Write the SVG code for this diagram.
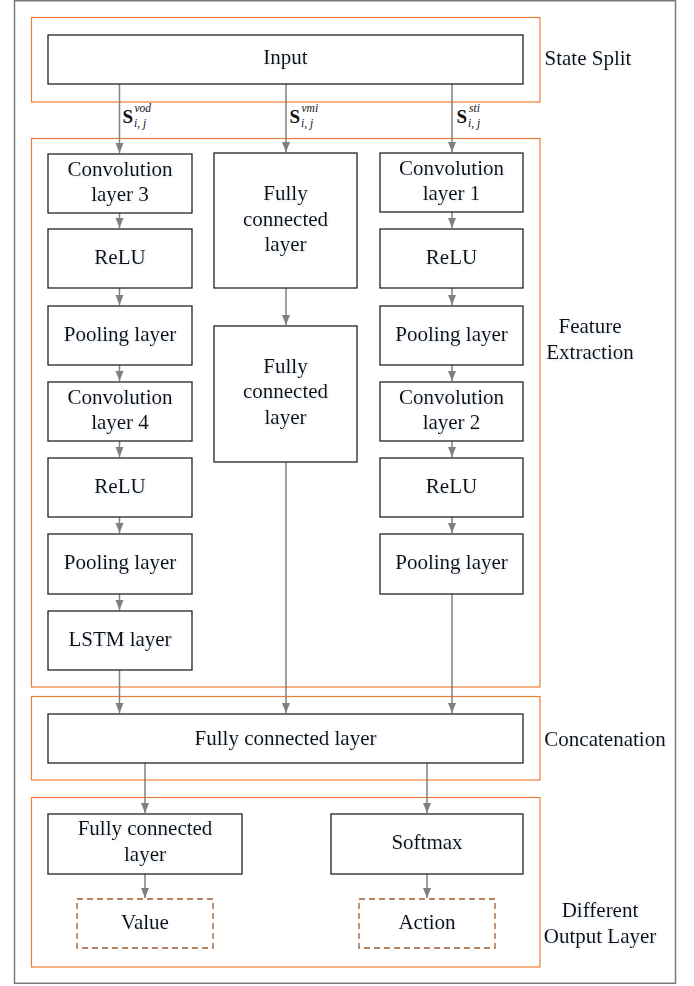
<svg xmlns="http://www.w3.org/2000/svg" width="694" height="986" viewBox="0 0 694 986">
  <style>
    .frame { fill: none; stroke: #7a7a7a; stroke-width: 1.5; }
    .stage { fill: none; stroke: #ED7D31; stroke-width: 1.2; }
    .box { fill: #ffffff; stroke: #222222; stroke-width: 1.3; }
    .out { fill: #ffffff; stroke: #9E5A2E; stroke-width: 1.3; stroke-dasharray: 6 4; }
    .lbl { font-family: "Liberation Serif", "Times New Roman", serif; font-size: 21px; fill: #111111; text-anchor: middle; filter: url(#glow); }
    .side { font-family: "Liberation Serif", "Times New Roman", serif; font-size: 21px; fill: #111111; text-anchor: middle; filter: url(#glow); }
    .sym { font-family: "Liberation Serif", "Times New Roman", serif; font-size: 19px; font-weight: bold; fill: #111111; }
    .sc { font-family: "Liberation Serif", "Times New Roman", serif; font-size: 11.5px; font-style: italic; fill: #111111; }
    .conn line { stroke: #808080; stroke-width: 1.5; marker-end: url(#arrow); }
  </style>
  <defs>
    <marker id="arrow" markerUnits="userSpaceOnUse" markerWidth="11" markerHeight="11" viewBox="0 0 11 11" refX="10" refY="5.5" orient="auto">
      <path d="M0,1.5 L10,5.5 L0,9.5 Z" fill="#808080"/>
    </marker>
    <filter id="glow" x="-10%" y="-30%" width="120%" height="160%">
      <feDropShadow dx="0.8" dy="1" stdDeviation="0.9" flood-color="#8fa8c8" flood-opacity="0.35"/>
    </filter>
  </defs>

  <rect width="694" height="986" fill="#ffffff"/>
  <rect class="frame" x="14.5" y="0.75" width="661" height="982.5"/>

  <!-- stage frames -->
  <g id="stages">
    <rect class="stage" x="31.5" y="17.5" width="508.5" height="84.5"/>
    <rect class="stage" x="31.5" y="138.5" width="508.5" height="548.5"/>
    <rect class="stage" x="31.5" y="696.5" width="508.5" height="83.5"/>
    <rect class="stage" x="31.5" y="797.5" width="508.5" height="169.5"/>
  </g>

  <!-- stage titles -->
  <g id="stage-titles">
    <text class="side" x="588" y="65">State Split</text>
    <text class="side" x="590" y="333">Feature</text>
    <text class="side" x="590" y="359">Extraction</text>
    <text class="side" x="605" y="746">Concatenation</text>
    <text class="side" x="600" y="917">Different</text>
    <text class="side" x="600" y="943">Output Layer</text>
  </g>

  <!-- connectors -->
  <g id="connectors" class="conn">
    <line x1="119.5" y1="84" x2="119.5" y2="153"/>
    <line x1="286" y1="84" x2="286" y2="152"/>
    <line x1="452" y1="84" x2="452" y2="152"/>

    <line x1="119.5" y1="213" x2="119.5" y2="228"/>
    <line x1="119.5" y1="288" x2="119.5" y2="305"/>
    <line x1="119.5" y1="365" x2="119.5" y2="381"/>
    <line x1="119.5" y1="441" x2="119.5" y2="457"/>
    <line x1="119.5" y1="517" x2="119.5" y2="533"/>
    <line x1="119.5" y1="594" x2="119.5" y2="610"/>

    <line x1="286" y1="288" x2="286" y2="325"/>

    <line x1="452" y1="212" x2="452" y2="228"/>
    <line x1="452" y1="288" x2="452" y2="305"/>
    <line x1="452" y1="365" x2="452" y2="381"/>
    <line x1="452" y1="441" x2="452" y2="457"/>
    <line x1="452" y1="517" x2="452" y2="533"/>

    <line x1="119.5" y1="670" x2="119.5" y2="713"/>
    <line x1="286" y1="462" x2="286" y2="713"/>
    <line x1="452" y1="594" x2="452" y2="713"/>

    <line x1="145" y1="763" x2="145" y2="813"/>
    <line x1="427" y1="763" x2="427" y2="813"/>
    <line x1="145" y1="874" x2="145" y2="898"/>
    <line x1="427" y1="874" x2="427" y2="898"/>
  </g>

  <!-- state labels on the split arrows -->
  <g id="state-labels">
    <text class="sym" x="122.5" y="122.5">S</text>
    <text class="sc" x="134.5" y="112">vod</text>
    <text class="sc" x="134" y="127">i, j</text>
    <text class="sym" x="289.5" y="122.5">S</text>
    <text class="sc" x="301.5" y="112">vmi</text>
    <text class="sc" x="301" y="127">i, j</text>
    <text class="sym" x="456.5" y="122.5">S</text>
    <text class="sc" x="469" y="112">sti</text>
    <text class="sc" x="468" y="127">i, j</text>
  </g>

  <g id="input">
    <rect class="box" x="48" y="35" width="475" height="49"/>
    <text class="lbl" x="285.5" y="64">Input</text>
  </g>

  <!-- left branch -->
  <g id="conv3">
    <rect class="box" x="48" y="154" width="144" height="59"/>
    <text class="lbl" x="120" y="175.5">Convolution</text>
    <text class="lbl" x="120" y="201">layer 3</text>
  </g>
  <g id="relu-left-1">
    <rect class="box" x="48" y="229" width="144" height="59"/>
    <text class="lbl" x="120" y="263.5">ReLU</text>
  </g>
  <g id="pool-left-1">
    <rect class="box" x="48" y="306" width="144" height="59"/>
    <text class="lbl" x="120" y="340.5">Pooling layer</text>
  </g>
  <g id="conv4">
    <rect class="box" x="48" y="382" width="144" height="59"/>
    <text class="lbl" x="120" y="403.5">Convolution</text>
    <text class="lbl" x="120" y="429">layer 4</text>
  </g>
  <g id="relu-left-2">
    <rect class="box" x="48" y="458" width="144" height="59"/>
    <text class="lbl" x="120" y="492.5">ReLU</text>
  </g>
  <g id="pool-left-2">
    <rect class="box" x="48" y="534" width="144" height="60"/>
    <text class="lbl" x="120" y="569">Pooling layer</text>
  </g>
  <g id="lstm">
    <rect class="box" x="48" y="611" width="144" height="59"/>
    <text class="lbl" x="120" y="645.5">LSTM layer</text>
  </g>

  <!-- middle branch -->
  <g id="fc-mid-1">
    <rect class="box" x="214" y="153" width="143" height="135"/>
    <text class="lbl" x="285.5" y="200">Fully</text>
    <text class="lbl" x="285.5" y="225.5">connected</text>
    <text class="lbl" x="285.5" y="251">layer</text>
  </g>
  <g id="fc-mid-2">
    <rect class="box" x="214" y="326" width="143" height="136"/>
    <text class="lbl" x="285.5" y="372.5">Fully</text>
    <text class="lbl" x="285.5" y="398">connected</text>
    <text class="lbl" x="285.5" y="423.5">layer</text>
  </g>

  <!-- right branch -->
  <g id="conv1">
    <rect class="box" x="380" y="153" width="143" height="59"/>
    <text class="lbl" x="451.5" y="174.5">Convolution</text>
    <text class="lbl" x="451.5" y="200">layer 1</text>
  </g>
  <g id="relu-right-1">
    <rect class="box" x="380" y="229" width="143" height="59"/>
    <text class="lbl" x="451.5" y="263.5">ReLU</text>
  </g>
  <g id="pool-right-1">
    <rect class="box" x="380" y="306" width="143" height="59"/>
    <text class="lbl" x="451.5" y="340.5">Pooling layer</text>
  </g>
  <g id="conv2">
    <rect class="box" x="380" y="382" width="143" height="59"/>
    <text class="lbl" x="451.5" y="403.5">Convolution</text>
    <text class="lbl" x="451.5" y="429">layer 2</text>
  </g>
  <g id="relu-right-2">
    <rect class="box" x="380" y="458" width="143" height="59"/>
    <text class="lbl" x="451.5" y="492.5">ReLU</text>
  </g>
  <g id="pool-right-2">
    <rect class="box" x="380" y="534" width="143" height="60"/>
    <text class="lbl" x="451.5" y="569">Pooling layer</text>
  </g>

  <!-- concatenation -->
  <g id="fc-concat">
    <rect class="box" x="48" y="714" width="475" height="49"/>
    <text class="lbl" x="285.5" y="745">Fully connected layer</text>
  </g>

  <!-- output heads -->
  <g id="fc-value">
    <rect class="box" x="48" y="814" width="194" height="60"/>
    <text class="lbl" x="145" y="835">Fully connected</text>
    <text class="lbl" x="145" y="861">layer</text>
  </g>
  <g id="softmax">
    <rect class="box" x="331" y="814" width="192" height="60"/>
    <text class="lbl" x="427" y="848.5">Softmax</text>
  </g>
  <g id="value">
    <rect class="out" x="77" y="899" width="136" height="49"/>
    <text class="lbl" x="145" y="928.5">Value</text>
  </g>
  <g id="action">
    <rect class="out" x="359" y="899" width="136" height="49"/>
    <text class="lbl" x="427" y="928.5">Action</text>
  </g>
</svg>
